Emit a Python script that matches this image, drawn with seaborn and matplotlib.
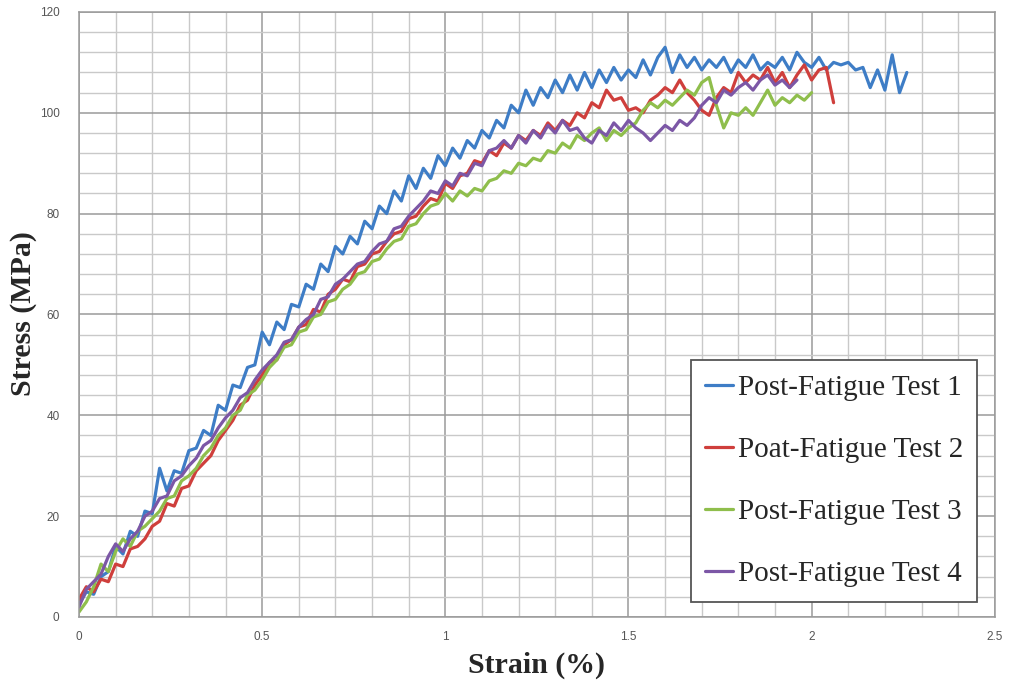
import matplotlib
matplotlib.use("Agg")
import matplotlib.pyplot as plt
from matplotlib.ticker import MultipleLocator
import numpy as np
import pandas as pd
import seaborn as sns

# Strain sampling points (%), shared by all four tests
strain = [
    0.00, 0.02, 0.04, 0.06, 0.08, 0.10, 0.12, 0.14, 0.16, 0.18,
    0.20, 0.22, 0.24, 0.26, 0.28, 0.30, 0.32, 0.34, 0.36, 0.38,
    0.40, 0.42, 0.44, 0.46, 0.48, 0.50, 0.52, 0.54, 0.56, 0.58,
    0.60, 0.62, 0.64, 0.66, 0.68, 0.70, 0.72, 0.74, 0.76, 0.78,
    0.80, 0.82, 0.84, 0.86, 0.88, 0.90, 0.92, 0.94, 0.96, 0.98,
    1.00, 1.02, 1.04, 1.06, 1.08, 1.10, 1.12, 1.14, 1.16, 1.18,
    1.20, 1.22, 1.24, 1.26, 1.28, 1.30, 1.32, 1.34, 1.36, 1.38,
    1.40, 1.42, 1.44, 1.46, 1.48, 1.50, 1.52, 1.54, 1.56, 1.58,
    1.60, 1.62, 1.64, 1.66, 1.68, 1.70, 1.72, 1.74, 1.76, 1.78,
    1.80, 1.82, 1.84, 1.86, 1.88, 1.90, 1.92, 1.94, 1.96, 1.98,
    2.00, 2.02, 2.04, 2.06, 2.08, 2.10, 2.12, 2.14, 2.16, 2.18,
    2.20, 2.22, 2.24, 2.26,
]

# Stress (MPa) recorded for each test
stress_test1 = [
    2.5, 5, 4.5, 8, 9, 14, 12.5, 17, 16, 21,
    20.5, 29.5, 25, 29, 28.5, 33, 33.5, 37, 36, 42,
    41, 46, 45.5, 49.5, 50, 56.5, 54, 58.5, 57, 62,
    61.5, 66, 65, 70, 68.5, 73.5, 72, 75.5, 74, 78.5,
    77, 81.5, 80, 84.5, 82.5, 87.5, 85, 89, 87, 91.5,
    89.5, 93, 91, 94.5, 93, 96.5, 95, 98.5, 97, 101.5,
    100, 104.5, 101.5, 105, 103, 106.5, 104, 107.5, 104.5, 108,
    105, 108.5, 106, 109, 106.5, 108.5, 107, 110.5, 107.5, 111,
    113, 108, 111.5, 109, 111, 108.5, 110.5, 109, 111, 108,
    110.5, 109, 111.5, 108.5, 110, 109, 111, 108.5, 112, 110,
    109, 111, 108.5, 110, 109.5, 110, 108.5, 109, 105, 108.5,
    104.5, 111.5, 104, 108,
]
stress_test2 = [
    3.5, 6, 5, 7.5, 7, 10.5, 10, 13.5, 14, 15.5,
    18, 19, 22.5, 22, 25.5, 26, 29, 30.5, 32, 35,
    37, 39, 42, 43, 46, 48, 50.5, 51, 54, 55,
    57.5, 58, 61, 60.5, 64, 65, 67, 66.5, 69.5, 70,
    72, 72.5, 74.5, 76, 76.5, 79, 79.5, 81.5, 83, 82.5,
    86, 85, 87.5, 88, 90.5, 90, 92.5, 91.5, 94, 93,
    95.5, 94.5, 96.5, 95.5, 98, 96.5, 98.5, 97.5, 100, 99,
    102, 101, 104.5, 102.5, 103, 100.5, 101, 100, 102.5, 103.5,
    105, 104, 106.5, 104, 102.5, 100.5, 99.5, 103, 105, 104,
    108, 106, 107.5, 106.5, 109, 106, 108, 105, 107.5, 109.5,
    106.5, 108.5, 109, 102,
]
stress_test3 = [
    1, 3, 6, 10.5, 9, 13, 15.5, 14, 17, 18,
    19.5, 21, 23.5, 24, 27, 28, 29.5, 32, 33.5, 36,
    37.5, 40, 41, 44, 45, 47, 49.5, 51, 53.5, 54,
    56.5, 57, 59.5, 60, 62.5, 63, 65, 66, 68, 68.5,
    70.5, 71, 73, 74.5, 75, 77.5, 78, 80, 81.5, 82,
    84, 82.5, 84.5, 83.5, 85, 84.5, 86.5, 87, 88.5, 88,
    90, 89.5, 91, 90.5, 92.5, 92, 94, 93, 95.5, 94.5,
    96, 97, 94.5, 96.5, 95.5, 97, 98, 100.5, 102, 101,
    102.5, 101.5, 103, 104.5, 103.5, 106, 107, 101.5, 97, 100,
    99.5, 101, 99.5, 102, 104.5, 101.5, 103, 102, 103.5, 102.5,
    104,
]
stress_test4 = [
    2, 5.5, 7, 8.5, 12, 14.5, 13, 15.5, 17, 20,
    21, 23.5, 24, 27, 28, 30, 31.5, 34, 35, 37.5,
    39.5, 41, 43.5, 44.5, 47, 49, 50.5, 52, 54.5, 55,
    57.5, 59, 60, 63, 63.5, 66, 67, 68.5, 70, 70.5,
    72.5, 74, 74.5, 77, 77.5, 79.5, 81, 82.5, 84.5, 84,
    86.5, 85.5, 88, 87.5, 90, 89.5, 92.5, 93, 94.5, 93,
    95.5, 94, 96.5, 95, 97.5, 96, 98.5, 96.5, 97, 95,
    94, 96.5, 95.5, 98, 96.5, 98.5, 97, 96, 94.5, 96,
    97.5, 96.5, 98.5, 97.5, 99, 101.5, 103, 102, 104.5, 103.5,
    105, 106, 104.5, 106.5, 107.5, 105.5, 106.5, 105, 106.5,
]

test_names = [
    "Post-Fatigue Test 1",
    "Poat-Fatigue Test 2",
    "Post-Fatigue Test 3",
    "Post-Fatigue Test 4",
]
test_colors = ["#3E7DC6", "#CF3F3C", "#8FBE4C", "#7C57A6"]

x_ticks = [0, 0.5, 1, 1.5, 2, 2.5]
x_tick_labels = ["0", "0.5", "1", "1.5", "2", "2.5"]
y_ticks = [0, 20, 40, 60, 80, 100, 120]

series = [stress_test1, stress_test2, stress_test3, stress_test4]
frames = []
for name, values in zip(test_names, series):
    frames.append(pd.DataFrame({
        "Strain": strain[:len(values)],
        "Stress": values,
        "Test": name,
    }))
df = pd.concat(frames, ignore_index=True)

sns.set_style("white")
plt.rcParams["font.family"] = ["Liberation Sans", "DejaVu Sans"]

fig = plt.figure(figsize=(10.13, 6.88), dpi=100)
ax = fig.add_axes([0.078, 0.1032, 0.904, 0.8794])

sns.lineplot(
    data=df, x="Strain", y="Stress", hue="Test",
    hue_order=test_names, palette=test_colors,
    sort=False, estimator=None, linewidth=2.3, ax=ax,
)

ax.set_xlim(0, 2.5)
ax.set_ylim(0, 120)
ax.set_xticks(x_ticks)
ax.set_xticklabels(x_tick_labels)
ax.set_yticks(y_ticks)
ax.xaxis.set_minor_locator(MultipleLocator(0.1))
ax.yaxis.set_minor_locator(MultipleLocator(4))

ax.grid(which="major", color="#9a9a9a", linewidth=1.1)
ax.grid(which="minor", color="#c9c9c9", linewidth=1.0)
ax.set_axisbelow(True)
for side in ["left", "bottom", "top", "right"]:
    ax.spines[side].set_color("#9a9a9a")
    ax.spines[side].set_linewidth(1.1)

ax.tick_params(axis="both", which="both", length=0, labelsize=8.5,
               labelcolor="#555555")
ax.tick_params(axis="x", pad=10)
ax.tick_params(axis="y", pad=14)

ax.set_xlabel("Strain (%)", family="Liberation Serif", fontweight="bold",
              fontsize=21.5)
ax.xaxis.set_label_coords(0.5, -0.057)
ax.set_ylabel("Stress (MPa)", family="Liberation Serif", fontweight="bold",
              fontsize=21.5)
ax.yaxis.set_label_coords(-0.046, 0.502)

leg = ax.legend(
    loc="lower right", bbox_to_anchor=(0.981, 0.025), borderaxespad=0,
    prop={"family": "Liberation Serif", "size": 21},
    handlelength=0.93, handletextpad=0.17, labelspacing=1.22,
    borderpad=0.5, fancybox=False, frameon=True,
)
leg.get_frame().set_edgecolor("#555555")
leg.get_frame().set_linewidth(1.3)
leg.get_frame().set_alpha(1)
for line in leg.get_lines():
    line.set_linewidth(2.3)

fig.savefig("out.png", dpi=100)
